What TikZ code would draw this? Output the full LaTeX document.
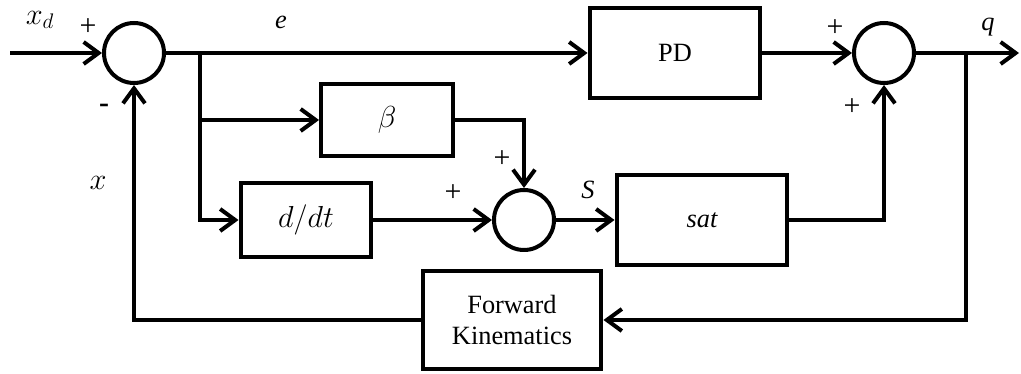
\documentclass[tikz,border=0pt]{standalone}
\usepackage{fontspec}
\setmainfont{Liberation Serif}
\usetikzlibrary{arrows.meta}

\begin{document}
\begin{tikzpicture}[x=0.02cm, y=-0.02cm, line width=0.08cm,
        >={Straight Barb[length=0.3cm,width=0.44cm]},
        font=\fontsize{15}{18}\selectfont,
        block/.style={draw, rectangle, inner sep=0pt, align=center},
        sumnode/.style={draw, circle, minimum size=1.2cm, inner sep=0pt},
        mathlbl/.style={font=\fontsize{17}{20}\selectfont},
        sign/.style={inner sep=0pt, font=\fontsize{17}{20}\selectfont}]
            \useasboundingbox (0,0) rectangle (1021,374);

            % summing junctions
            \node[sumnode] (sumA) at (134,53) {};
            \node[sumnode] (sumB) at (524,220) {};
            \node[sumnode] (sumC) at (884,53) {};

            % blocks
            \node[block, minimum width=3.42cm, minimum height=1.8cm] (pd) at (675,53) {PD};
            \node[block, mathlbl, minimum width=2.64cm, minimum height=1.44cm] (beta) at (387,120) {$\beta$};
            \node[block, mathlbl, minimum width=2.62cm, minimum height=1.48cm] (ddt) at (306,220) {$d/dt$};
            \node[block, minimum width=3.42cm, minimum height=1.8cm] (sat) at (702,220) {\itshape sat};
            \node[block, minimum width=3.58cm, minimum height=1.96cm] (fk) at (512,320) {Forward\\Kinematics};

            \coordinate (in) at (10,53);
            \coordinate (out) at (1019,53);
            \coordinate (brE) at (200,53);
            \coordinate (brQ) at (966,53);

            % connectors
            \draw[->] (in) -- (sumA.west);
            \draw[->] (sumA.east) -- (pd.west);
            \draw[->] (brE) |- (beta.west);
            \draw[->] (brE) |- (ddt.west);
            \draw[->] (beta.east) -| (sumB.north);
            \draw[->] (ddt.east) -- (sumB.west);
            \draw[->] (sumB.east) -- (sat.west);
            \draw[->] (pd.east) -- (sumC.west);
            \draw[->] (sat.east) -| (sumC.south);
            \draw[->] (sumC.east) -- (out);
            \draw[->] (brQ) |- (fk.east);
            \draw[->] (fk.west) -| (sumA.south);

            % signal names and signs
            \node[mathlbl] at (40,20) {$x_d$};
            \node at (281,22) {\itshape e};
            \node at (988,27) {\itshape q};
            \node at (588,190) {\itshape S};
            \node[mathlbl] at (98,183) {$x$};
            \node[sign] at (88,27) {+};
            \node[sign] at (104,108) {\bfseries -};
            \node[sign] at (502,159) {+};
            \node[sign] at (453,193) {+};
            \node[sign] at (835,28) {+};
            \node[sign] at (852,107) {+};

\end{tikzpicture}
\end{document}
